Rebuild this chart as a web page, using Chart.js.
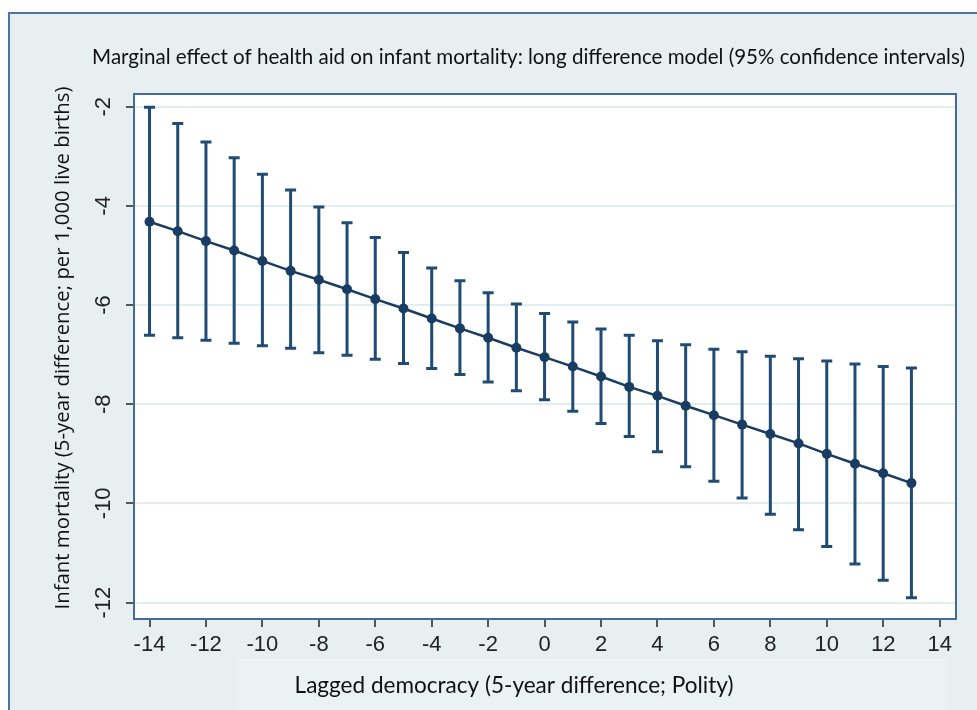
<!DOCTYPE html>
<html>
<head>
<meta charset="utf-8">
<script src="https://cdn.jsdelivr.net/npm/chart.js@4.4.1/dist/chart.umd.min.js"></script>
<style>
html,body{margin:0;padding:0;background:#fff;}
#c{display:block;}
</style>
</head>
<body>
<canvas id="c" width="977" height="710"></canvas>
<script>
// ---- Data ----
const democracy = [-14,-13,-12,-11,-10,-9,-8,-7,-6,-5,-4,-3,-2,-1,0,1,2,3,4,5,6,7,8,9,10,11,12,13];
const marginalEffect = [-4.32,-4.51,-4.71,-4.90,-5.11,-5.31,-5.49,-5.68,-5.88,-6.07,-6.27,-6.47,-6.66,-6.86,-7.05,-7.24,-7.44,-7.65,-7.83,-8.03,-8.22,-8.41,-8.60,-8.79,-9.00,-9.20,-9.39,-9.59];
const ciUpper = [-2.01,-2.34,-2.71,-3.03,-3.36,-3.68,-4.02,-4.34,-4.64,-4.94,-5.25,-5.51,-5.75,-5.98,-6.17,-6.34,-6.48,-6.61,-6.72,-6.80,-6.89,-6.94,-7.03,-7.08,-7.13,-7.19,-7.24,-7.27];
const ciLower = [-6.61,-6.66,-6.71,-6.77,-6.82,-6.87,-6.96,-7.01,-7.09,-7.18,-7.28,-7.40,-7.55,-7.73,-7.91,-8.14,-8.39,-8.65,-8.96,-9.26,-9.55,-9.89,-10.22,-10.53,-10.87,-11.22,-11.55,-11.90];
const xTickValues = [-14,-12,-10,-8,-6,-4,-2,0,2,4,6,8,10,12,14];
const yTickValues = [-12,-10,-8,-6,-4,-2];
const titleText = "Marginal effect of health aid on infant mortality: long difference model (95% confidence intervals)";
const xTitleText = "Lagged democracy (5-year difference; Polity)";
const yTitleText = "Infant mortality (5-year difference; per 1,000 live births)";

const BAR_COLOR = '#1f4b74';
const LINE_COLOR = '#193d62';

function fitSize(ctx, text, family, target) {
  ctx.font = '100px ' + family;
  return 100 * target / ctx.measureText(text).width;
}

const backgroundPlugin = {
  id: 'stataBackground',
  beforeDraw(chart) {
    const ctx = chart.ctx, a = chart.chartArea;
    ctx.save();
    ctx.fillStyle = '#ffffff';
    ctx.fillRect(0, 0, chart.width, chart.height);
    ctx.fillStyle = '#e7eff1';
    ctx.fillRect(8, 12, chart.width - 8, chart.height - 12);
    ctx.fillStyle = '#ebf2f3';
    ctx.fillRect(239, 659, 706, chart.height - 659);
    ctx.strokeStyle = '#4a76a8';
    ctx.lineWidth = 2;
    ctx.beginPath();
    ctx.moveTo(9, chart.height);
    ctx.lineTo(9, 13);
    ctx.lineTo(chart.width, 13);
    ctx.stroke();
    ctx.fillStyle = '#ffffff';
    ctx.fillRect(a.left, a.top, a.right - a.left, a.bottom - a.top);
    ctx.restore();
  },
  beforeDatasetsDraw(chart) {
    const ctx = chart.ctx, a = chart.chartArea;
    const xs = chart.scales.x, ys = chart.scales.y;
    ctx.save();
    // plot region border
    ctx.strokeStyle = '#3f6c9b';
    ctx.lineWidth = 2;
    ctx.strokeRect(a.left, a.top, a.right - a.left, a.bottom - a.top);
    // confidence interval whiskers
    ctx.strokeStyle = BAR_COLOR;
    ctx.lineWidth = 3;
    ctx.lineCap = 'butt';
    for (let i = 0; i < democracy.length; i++) {
      const px = xs.getPixelForValue(democracy[i]);
      const pTop = ys.getPixelForValue(ciUpper[i]);
      const pBot = ys.getPixelForValue(ciLower[i]);
      ctx.beginPath();
      ctx.moveTo(px, pTop);
      ctx.lineTo(px, pBot);
      ctx.moveTo(px - 5.5, pTop);
      ctx.lineTo(px + 5.5, pTop);
      ctx.moveTo(px - 5.5, pBot);
      ctx.lineTo(px + 5.5, pBot);
      ctx.stroke();
    }
    ctx.restore();
  },
  afterDraw(chart) {
    const ctx = chart.ctx;
    ctx.save();
    ctx.fillStyle = '#111111';
    ctx.textAlign = 'center';
    ctx.textBaseline = 'middle';
    let s = fitSize(ctx, titleText, 'Lato', 873);
    ctx.font = s.toFixed(2) + 'px Lato';
    ctx.fillText(titleText, 528.5, 57);
    s = fitSize(ctx, xTitleText, 'Lato', 439);
    ctx.font = s.toFixed(2) + 'px Lato';
    ctx.fillText(xTitleText, 514, 686);
    s = fitSize(ctx, yTitleText, '"Open Sans"', 523);
    ctx.font = s.toFixed(2) + 'px "Open Sans"';
    ctx.translate(63, 348);
    ctx.rotate(-Math.PI / 2);
    ctx.fillText(yTitleText, 0, 0);
    ctx.restore();
  }
};

const ctx = document.getElementById('c').getContext('2d');
new Chart(ctx, {
  type: 'line',
  data: {
    datasets: [{
      data: democracy.map((x, i) => ({ x: x, y: marginalEffect[i] })),
      borderColor: LINE_COLOR,
      borderWidth: 2.5,
      pointRadius: 5,
      pointBackgroundColor: LINE_COLOR,
      pointBorderColor: LINE_COLOR,
      pointBorderWidth: 0,
      tension: 0,
      fill: false
    }]
  },
  options: {
    responsive: false,
    animation: false,
    devicePixelRatio: 1,
    layout: { padding: { left: 0, right: 21, top: 94, bottom: 0 } },
    plugins: { legend: { display: false }, title: { display: false }, tooltip: { enabled: false } },
    scales: {
      x: {
        type: 'linear',
        min: -14.55,
        max: 14.58,
        afterBuildTicks: sc => { sc.ticks = xTickValues.map(v => ({ value: v })); },
        afterFit: sc => { sc.height = 91; },
        border: { display: false },
        grid: { drawOnChartArea: false, drawTicks: true, tickLength: 8, tickColor: '#555555', tickWidth: 2, lineWidth: 2 },
        ticks: { font: { family: '"Liberation Sans"', size: 22 }, color: '#222222', padding: 5, maxRotation: 0, minRotation: 0, autoSkip: false }
      },
      y: {
        type: 'linear',
        min: -12.33,
        max: -1.744,
        afterBuildTicks: sc => { sc.ticks = yTickValues.map(v => ({ value: v })); },
        afterFit: sc => { sc.width = 134; },
        border: { display: false },
        grid: { drawOnChartArea: true, color: '#e2edf0', lineWidth: 2, drawTicks: true, tickLength: 8, tickColor: '#555555', tickWidth: 2 },
        ticks: { font: { family: '"Liberation Sans"', size: 22 }, color: '#222222', padding: 6, minRotation: 90, maxRotation: 90, crossAlign: 'center', autoSkip: false }
      }
    }
  },
  plugins: [backgroundPlugin]
});
</script>
</body>
</html>
